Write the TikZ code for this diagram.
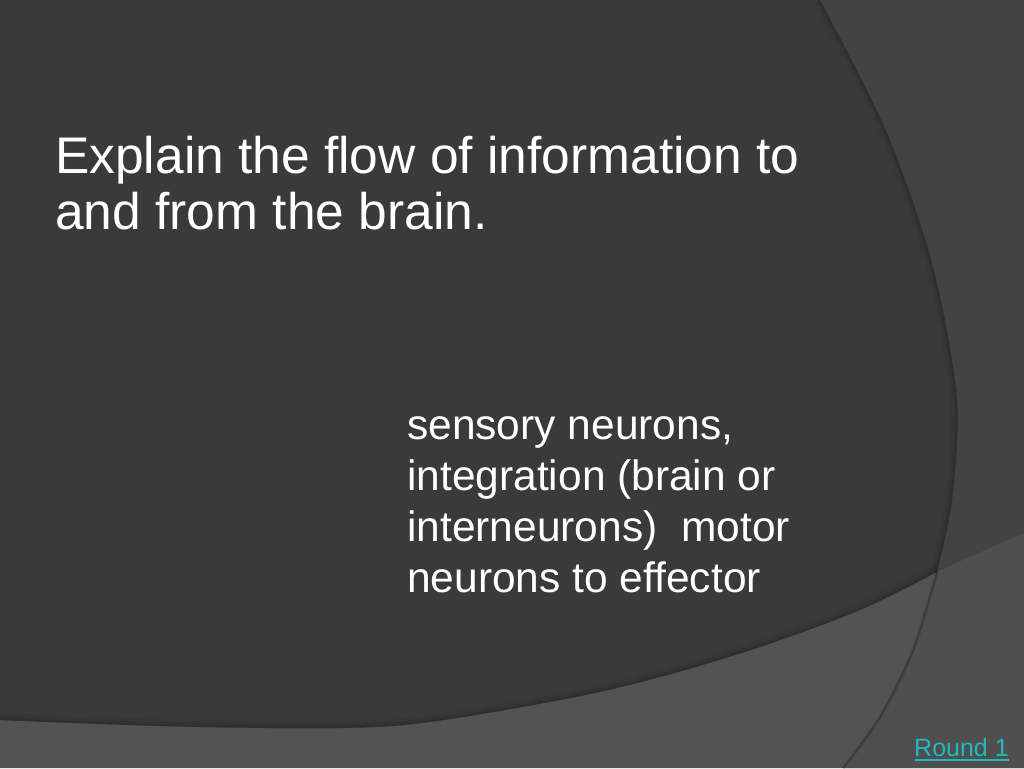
\documentclass[tikz,border=0pt]{standalone}
\usepackage{fontspec}
\setmainfont{Liberation Sans}
\usetikzlibrary{calc}
\definecolor{bgtop}{HTML}{434343}
\definecolor{bgband}{HTML}{535353}
\definecolor{bgbandr}{HTML}{4F4F4F}
\definecolor{darkmain}{HTML}{3A3A3A}
\definecolor{linkcol}{RGB}{32,185,190}
\tikzset{
  titletext/.style={anchor=base west,inner sep=0pt,text=white,font=\fontsize{51.5}{56}\selectfont},
  bodytext/.style={anchor=base west,inner sep=0pt,text=white,font=\fontsize{42.5}{51}\selectfont},
  linktext/.style={anchor=base west,inner sep=0pt,text=linkcol,font=\fontsize{25}{29}\selectfont},
}
\begin{document}
\begin{tikzpicture}[x=1pt,y=-1pt]
\useasboundingbox (0,0) rectangle (1024,768);
% background
\fill[bgtop] (0,0) rectangle (1024,768);
% lower band
\fill[bgband] plot[smooth] coordinates {(0,720) (200,727) (392,726) (560,700) (660,677) (760,647) (860,610) (937,572) (1024,533)} -- (1024,768) -- (0,768) -- cycle;
% band part right of arc
\fill[bgbandr] plot[smooth] coordinates {(937,572) (913,650) (880,717) (843,768)} -- (1024,768) -- (1024,533) -- cycle;
% faint arc line in band
\draw[black,opacity=0.10,line width=4pt] plot[smooth] coordinates {(937,572) (913,650) (880,717) (843,768)};
\draw[black!60!bgband,opacity=0.45,line width=1pt] plot[smooth] coordinates {(937,572) (913,650) (880,717) (843,768)};
% dark main shape
\fill[darkmain] (0,0) -- plot[smooth] coordinates {(820,0) (887,133) (933,267) (957,400) (952,500) (937,572)} -- plot[smooth] coordinates {(937,572) (860,610) (760,647) (660,677) (560,700) (392,726) (200,727) (0,720)} -- cycle;
% shadows inside dark shape
\begin{scope}
\clip (0,0) -- plot[smooth] coordinates {(820,0) (887,133) (933,267) (957,400) (952,500) (937,572)} -- plot[smooth] coordinates {(937,572) (860,610) (760,647) (660,677) (560,700) (392,726) (200,727) (0,720)} -- cycle;
\foreach \w/\o in {14/0.04,8/0.06,4/0.08}{
  \draw[black,opacity=\o,line width=\w pt] plot[smooth] coordinates {(820,0) (887,133) (933,267) (957,400) (952,500) (937,572)};
  \draw[black,opacity=\o,line width=\w pt] plot[smooth] coordinates {(1024,533) (937,572) (860,610) (760,647) (660,677) (560,700) (392,726) (200,727) (0,720)};
}
\end{scope}
% title
\node[titletext] (t1) at (55,173) {Explain the flow of information to};
\node[titletext] (t2) at (55,229) {and from the brain.};
% body
\node[bodytext] (b1) at (407,439) {sensory neurons,};
\node[bodytext] (b2) at (407,490) {integration (brain or};
\node[bodytext] (b3) at (407,541) {interneurons)\ \ motor};
\node[bodytext] (b4) at (407,592) {neurons to effector};
% link
\node[linktext] (lk) at (914,756) {Round 1};
\draw[linkcol,line width=1.6pt] ($(lk.base west)+(1,4)$) -- ($(lk.base east)+(0,4)$);
\end{tikzpicture}
\end{document}
